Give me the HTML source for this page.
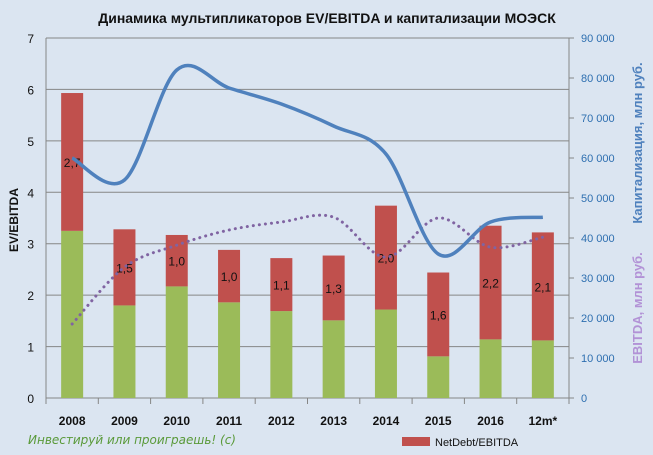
<!DOCTYPE html>
<html><head><meta charset="utf-8"><style>
body{margin:0;background:#dbe5f1;}
svg{display:block;font-family:"Liberation Sans","DejaVu Sans",sans-serif;}
</style></head><body>
<svg width="653" height="455" viewBox="0 0 653 455" id="c">
<rect width="653" height="455" fill="#dbe5f1"/>
<text x="327" y="23" text-anchor="middle" font-size="14" font-weight="bold" fill="#111">Динамика мультипликаторов EV/EBITDA и капитализации МОЭСК</text>
<text transform="translate(18,220) rotate(-90)" text-anchor="middle" font-size="12" font-weight="bold" fill="#111">EV/EBITDA</text>
<text transform="translate(642,143) rotate(-90)" text-anchor="middle" font-size="13" font-weight="bold" fill="#4f81bd">Капитализация, млн руб.</text>
<text transform="translate(642,308) rotate(-90)" text-anchor="middle" font-size="13" font-weight="bold" fill="#b292d6">EBITDA, млн руб.</text>
<text x="28" y="444" font-size="12" font-style="italic" fill="#5a9a3a" font-family="'DejaVu Sans',sans-serif">Инвестируй или проиграешь! (c)</text>
<rect x="402" y="437" width="28" height="9" fill="#c0504d"/>
<text x="435" y="446" font-size="11" fill="#111">NetDebt/EBITDA</text>
<g id="g"></g>
</svg>
<script>
const categories=["2008","2009","2010","2011","2012","2013","2014","2015","2016","12m*"];
const evEbitdaGreen=[3.25,1.8,2.17,1.86,1.69,1.51,1.72,0.81,1.14,1.12];
const evEbitdaTotal=[5.93,3.28,3.17,2.88,2.72,2.77,3.74,2.44,3.35,3.22];
const netDebtLabels=["2,7","1,5","1,0","1,0","1,1","1,3","2,0","1,6","2,2","2,1"];
const capitalization=[60000,54500,82000,77500,73500,68000,61000,36000,44000,45200];
const ebitda=[18500,32700,38200,42000,44000,45200,35200,45000,37700,40200];
const leftTicks=[0,1,2,3,4,5,6,7];
const rightTicks=[0,10000,20000,30000,40000,50000,60000,70000,80000,90000];
const rightTickLabels=["0","10 000","20 000","30 000","40 000","50 000","60 000","70 000","80 000","90 000"];

const NS="http://www.w3.org/2000/svg",g=document.getElementById('g');
const L=46,R=569,T=38,B=398,bw=(R-L)/categories.length;
const y=v=>B-(v/7)*(B-T), y2=v=>B-(v/90000)*(B-T), xc=i=>L+bw*(i+0.5);
function mk(t,a,p){const e=document.createElementNS(NS,t);for(const k in a)e.setAttribute(k,a[k]);(p||g).appendChild(e);return e;}
leftTicks.forEach((t,i)=>{
 const l=mk('line',{x1:L,x2:R,y1:y(t),y2:y(t),stroke:'#868686','stroke-width':1});
 
 
 const tx=mk('text',{x:L-12,y:y(t)+5,'text-anchor':'end','font-size':12,fill:'#111'});tx.textContent=t;
 
 
});
rightTicks.forEach((t,i)=>{
 const tx=mk('text',{x:R+12,y:y2(t)+4,'font-size':11,fill:'#2e6fb0'});tx.textContent=rightTickLabels[i];
 
 
 mk('line',{x1:R,x2:R+5,y1:y2(t),y2:y2(t),stroke:'#868686'});
});
mk('line',{x1:L,x2:L,y1:T,y2:B,stroke:'#868686'});
mk('line',{x1:R,x2:R,y1:T,y2:B,stroke:'#868686'});
categories.forEach((c,i)=>{
 mk('line',{x1:L+bw*i,x2:L+bw*i,y1:B,y2:B+6,stroke:'#868686'});
 const w=22,x=xc(i)-w/2;
 const gb=mk('rect',{x:x,y:y(evEbitdaGreen[i]),width:w,height:B-y(evEbitdaGreen[i]),fill:'#9bbb59'});
 
 
 const rb=mk('rect',{x:x,y:y(evEbitdaTotal[i]),width:w,height:y(evEbitdaGreen[i])-y(evEbitdaTotal[i]),fill:'#c0504d'});
 
 
 const lt=mk('text',{x:xc(i),y:y((evEbitdaGreen[i]+evEbitdaTotal[i])/2)+5,'text-anchor':'middle','font-size':12,fill:'#111'});lt.textContent=netDebtLabels[i];
 
 
 const xt=mk('text',{x:xc(i),y:425,'text-anchor':'middle','font-size':12,'font-weight':'bold',fill:'#111'});xt.textContent=c;
 
 
});
mk('line',{x1:R,x2:R,y1:B,y2:B+6,stroke:'#868686'});
function smooth(pts){let d='M'+pts[0][0]+','+pts[0][1];
 for(let i=0;i<pts.length-1;i++){const p0=pts[Math.max(0,i-1)],p1=pts[i],p2=pts[i+1],p3=pts[Math.min(pts.length-1,i+2)];
  d+=` C${p1[0]+(p2[0]-p0[0])/6},${p1[1]+(p2[1]-p0[1])/6} ${p2[0]-(p3[0]-p1[0])/6},${p2[1]-(p3[1]-p1[1])/6} ${p2[0]},${p2[1]}`;}
 return d;}
const e=mk('path',{d:smooth(ebitda.map((v,i)=>[xc(i),y2(v)])),fill:'none',stroke:'#8064a2','stroke-width':3,'stroke-dasharray':'0.1 6','stroke-linecap':'round'});


const cp=mk('path',{d:smooth(capitalization.map((v,i)=>[xc(i),y2(v)])),fill:'none',stroke:'#4f81bd','stroke-width':3.5});


</script>
</body></html>
